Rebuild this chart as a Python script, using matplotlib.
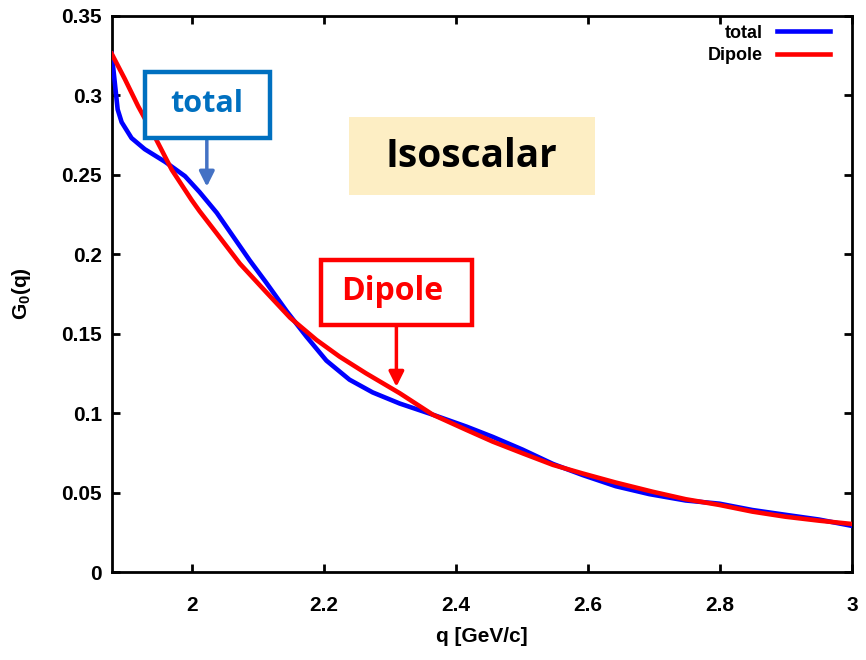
import matplotlib
matplotlib.use("Agg")
import matplotlib.pyplot as plt
from matplotlib.lines import Line2D
from matplotlib.patches import Rectangle

# q [GeV/c] and G0(q)
q_total = [1.879, 1.888, 1.894, 1.909, 1.929, 1.960, 1.990, 2.012, 2.038, 2.063,
           2.088, 2.113, 2.144, 2.174, 2.204, 2.239, 2.274, 2.315, 2.365, 2.416,
           2.456, 2.501, 2.547, 2.592, 2.642, 2.693, 2.748, 2.799, 2.849, 2.899,
           2.950, 3.000]
g_total = [0.326, 0.291, 0.283, 0.273, 0.266, 0.258, 0.249, 0.239, 0.226, 0.211,
           0.196, 0.182, 0.164, 0.148, 0.133, 0.121, 0.113, 0.106, 0.099, 0.0915,
           0.085, 0.077, 0.068, 0.061, 0.054, 0.049, 0.045, 0.043, 0.039, 0.036,
           0.033, 0.029]

q_dipole = [1.879, 1.899, 1.919, 1.944, 1.970, 2.000, 2.012, 2.038, 2.073, 2.113,
            2.149, 2.189, 2.224, 2.264, 2.315, 2.365, 2.416, 2.456, 2.501, 2.547,
            2.592, 2.642, 2.698, 2.748, 2.799, 2.849, 2.899, 2.950, 3.000]
g_dipole = [0.326, 0.310, 0.293, 0.274, 0.253, 0.234, 0.227, 0.213, 0.194, 0.176,
            0.160, 0.146, 0.1355, 0.125, 0.1125, 0.099, 0.0894, 0.082, 0.0747, 0.0674,
            0.062, 0.0563, 0.0505, 0.0458, 0.0422, 0.038, 0.0348, 0.0323, 0.0302]

x_ticks = [2, 2.2, 2.4, 2.6, 2.8, 3]
x_labels = ["2", "2.2", "2.4", "2.6", "2.8", "3"]
y_ticks = [0, 0.05, 0.1, 0.15, 0.2, 0.25, 0.3, 0.35]
y_labels = ["0", "0.05", "0.1", "0.15", "0.2", "0.25", "0.3", "0.35"]

plt.rcParams['font.family'] = ['Liberation Sans', 'DejaVu Sans']
plt.rcParams['font.weight'] = 'bold'
plt.rcParams['mathtext.fontset'] = 'custom'
plt.rcParams['mathtext.rm'] = 'Liberation Sans:bold'
plt.rcParams['mathtext.bf'] = 'Liberation Sans:bold'

fig = plt.figure(figsize=(8.66, 6.6), dpi=100)
ax = fig.add_axes([0.129, 0.1333, 0.855, 0.843])

ax.plot(q_total, g_total, color='#0000FF', lw=3.3, zorder=3)
ax.plot(q_dipole, g_dipole, color='#FF0000', lw=3.3, zorder=4)

ax.set_xlim(1.879, 3.0)
ax.set_ylim(0, 0.35)
ax.set_xticks(x_ticks)
ax.set_xticklabels(x_labels)
ax.set_yticks(y_ticks)
ax.set_yticklabels(y_labels)
ax.tick_params(direction='in', length=6, width=2, top=True, right=True,
               labelsize=15)
ax.tick_params(axis='x', pad=17)
ax.tick_params(axis='y', pad=7)
for s in ax.spines.values():
    s.set_linewidth(2)

ax.set_xlabel('q [GeV/c]', fontsize=15, fontweight='bold', labelpad=9)
ax.set_ylabel(r'$\mathrm{G_0(q)}$', fontsize=15, labelpad=20)

handles = [Line2D([], [], color='#0000FF', lw=3.3),
           Line2D([], [], color='#FF0000', lw=3.3)]
ax.legend(handles, ['total', 'Dipole'], loc='upper right', markerfirst=False,
          frameon=False, fontsize=13, handlelength=2.9, borderaxespad=0.1,
          labelspacing=0.3, handletextpad=0.8, bbox_to_anchor=(0.982, 1.0))

# annotation boxes
ann_font = ['Open Sans', 'DejaVu Sans']
ax.add_patch(Rectangle((1.929, 0.2732), 0.189, 0.0415, fc='white',
                       ec='#0070C0', lw=3.2, zorder=5))
ax.text(2.023, 0.2945, 'total', color='#0070C0', fontsize=22, fontweight='bold',
        family=ann_font, ha='center', va='center', zorder=6)
ax.annotate('', xy=(2.023, 0.2424), xytext=(2.023, 0.2715),
            arrowprops=dict(arrowstyle='-|>,head_width=0.45,head_length=0.9',
                            color='#4472C4', lw=2.5, shrinkA=0, shrinkB=0))

ax.add_patch(Rectangle((2.196, 0.1555), 0.228, 0.0409, fc='white',
                       ec='#FF0000', lw=3.2, zorder=5))
ax.text(2.304, 0.1765, 'Dipole', color='#FF0000', fontsize=23, fontweight='bold',
        family=ann_font, ha='center', va='center', zorder=6)
ax.annotate('', xy=(2.310, 0.1165), xytext=(2.310, 0.1545),
            arrowprops=dict(arrowstyle='-|>,head_width=0.45,head_length=0.9',
                            color='#FF0000', lw=2.5, shrinkA=0, shrinkB=0))

ax.add_patch(Rectangle((2.238, 0.2373), 0.372, 0.0491, fc='#FDEEC4',
                       ec='none', zorder=1))
ax.text(2.424, 0.2615, 'Isoscalar', color='black', fontsize=28, fontweight='bold',
        family=ann_font, ha='center', va='center', zorder=2)

fig.savefig('out.png', dpi=100)
